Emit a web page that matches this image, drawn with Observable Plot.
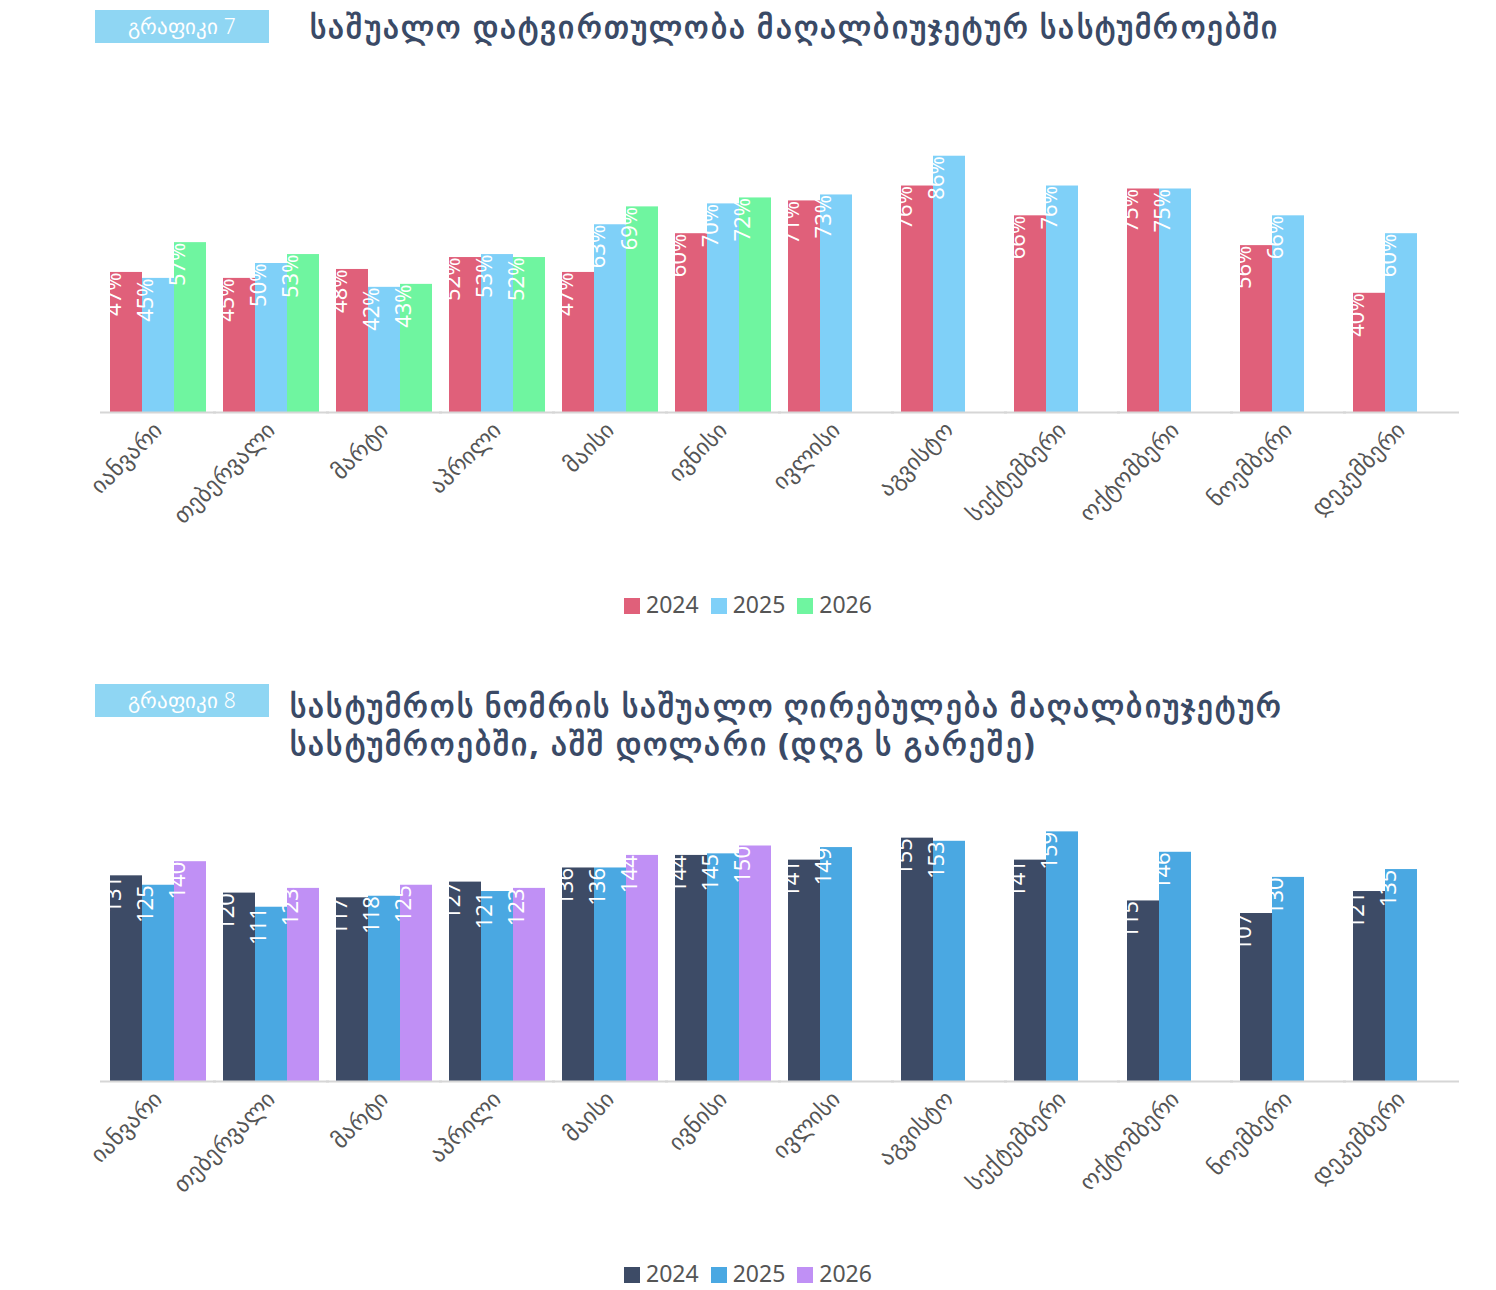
<!DOCTYPE html>
<html><head><meta charset="utf-8">
<script src="https://cdn.jsdelivr.net/npm/d3@7"></script>
<script src="https://cdn.jsdelivr.net/npm/@observablehq/plot@0.6"></script>
<style>
body{margin:0;background:#fff;font-family:"Noto Sans",sans-serif;}
#wrap{position:relative;width:1496px;height:1290px;}
.badge{position:absolute;left:95px;width:174px;height:33px;background:#8fd6f3;color:#fff;font-size:21px;line-height:33px;text-align:center;font-weight:300}
.title{position:absolute;color:#3a4a66;font-weight:800;font-size:31px;letter-spacing:2.2px;line-height:38px}
.chart{position:absolute;left:0}
.legend{position:absolute;left:0;width:1496px;text-align:center;font-size:23px;color:#555}
.legend span{display:inline-block;margin:0 6px}
.legend i{display:inline-block;width:16px;height:16px;margin-right:6px;vertical-align:-1px}
</style></head><body>
<div id="wrap">
<div class="badge" style="top:10px">გრაფიკი 7</div>
<div class="title" style="left:310px;top:7px">საშუალო დატვირთულობა მაღალბიუჯეტურ სასტუმროებში</div>
<div class="chart" id="c1" style="top:60px"></div>
<div class="legend" id="l1" style="top:588px"></div>
<div class="badge" style="top:684px">გრაფიკი 8</div>
<div class="title" style="left:290px;top:686px">სასტუმროს ნომრის საშუალო ღირებულება მაღალბიუჯეტურ<br>სასტუმროებში, აშშ დოლარი (დღგ ს გარეშე)</div>
<div class="chart" id="c2" style="top:740px"></div>
<div class="legend" id="l2" style="top:1257px"></div>
</div>
<script>
const months = ["იანვარი","თებერვალი","მარტი","აპრილი","მაისი","ივნისი","ივლისი","აგვისტო","სექტემბერი","ოქტომბერი","ნოემბერი","დეკემბერი"];
const years = ["2024","2025","2026"];
const occ2024 = [47,45,48,52,47,60,71,76,66,75,56,40];
const occ2025 = [45,50,42,53,63,70,73,86,76,75,66,60];
const occ2026 = [57,53,43,52,69,72];
const adr2024 = [131,120,117,127,136,144,141,155,141,115,107,121];
const adr2025 = [125,111,118,121,136,145,149,153,159,146,130,135];
const adr2026 = [140,123,125,123,144,150];
const colors1 = ["#e0607a","#7fd0f8","#6ff5a0"];
const colors2 = ["#3d4b66","#4aa8e2","#c090f5"];

function rows(series){
  const out=[];
  series.forEach((s,i)=>s.forEach((v,j)=>out.push({month:months[j],year:years[i],value:v})));
  return out;
}
function chart(data, colors, ymax, marginTop, suffix){
  return Plot.plot({
    width:1496, height: marginTop+ (ymax===100?298:314) +170,
    marginLeft:105, marginRight:41, marginTop, marginBottom:170,
    style:{fontFamily:"Noto Sans, sans-serif", fontSize:"23px", color:"#555", overflow:"visible"},
    fx:{domain:months, padding:0.15, label:null, tickRotate:-45, tickSize:0, tickPadding:14},
    x:{domain:years, padding:0, axis:null},
    y:{domain:[0,ymax], axis:null},
    color:{domain:years, range:colors},
    marks:[
      Plot.barY(data,{fx:"month",x:"year",y:"value",fill:"year"}),
      Plot.text(data,{fx:"month",x:"year",y:"value",text:d=>d.value+suffix,rotate:-90,textAnchor:"end",dx:-13,fill:"#fff",fontSize:22}),
      Plot.ruleY([0],{stroke:"#d6d6d6",strokeWidth:2,insetLeft:-10,insetRight:-10})
    ]
  });
}
function legend(id, colors){
  document.getElementById(id).innerHTML = years.map((y,i)=>`<span><i style="background:${colors[i]}"></i>${y}</span>`).join("");
}
document.getElementById("c1").append(chart(rows([occ2024,occ2025,occ2026]),colors1,100,54,"%"));
document.getElementById("c2").append(chart(rows([adr2024,adr2025,adr2026]),colors2,200,27,""));
legend("l1",colors1); legend("l2",colors2);
</script>
</body></html>
